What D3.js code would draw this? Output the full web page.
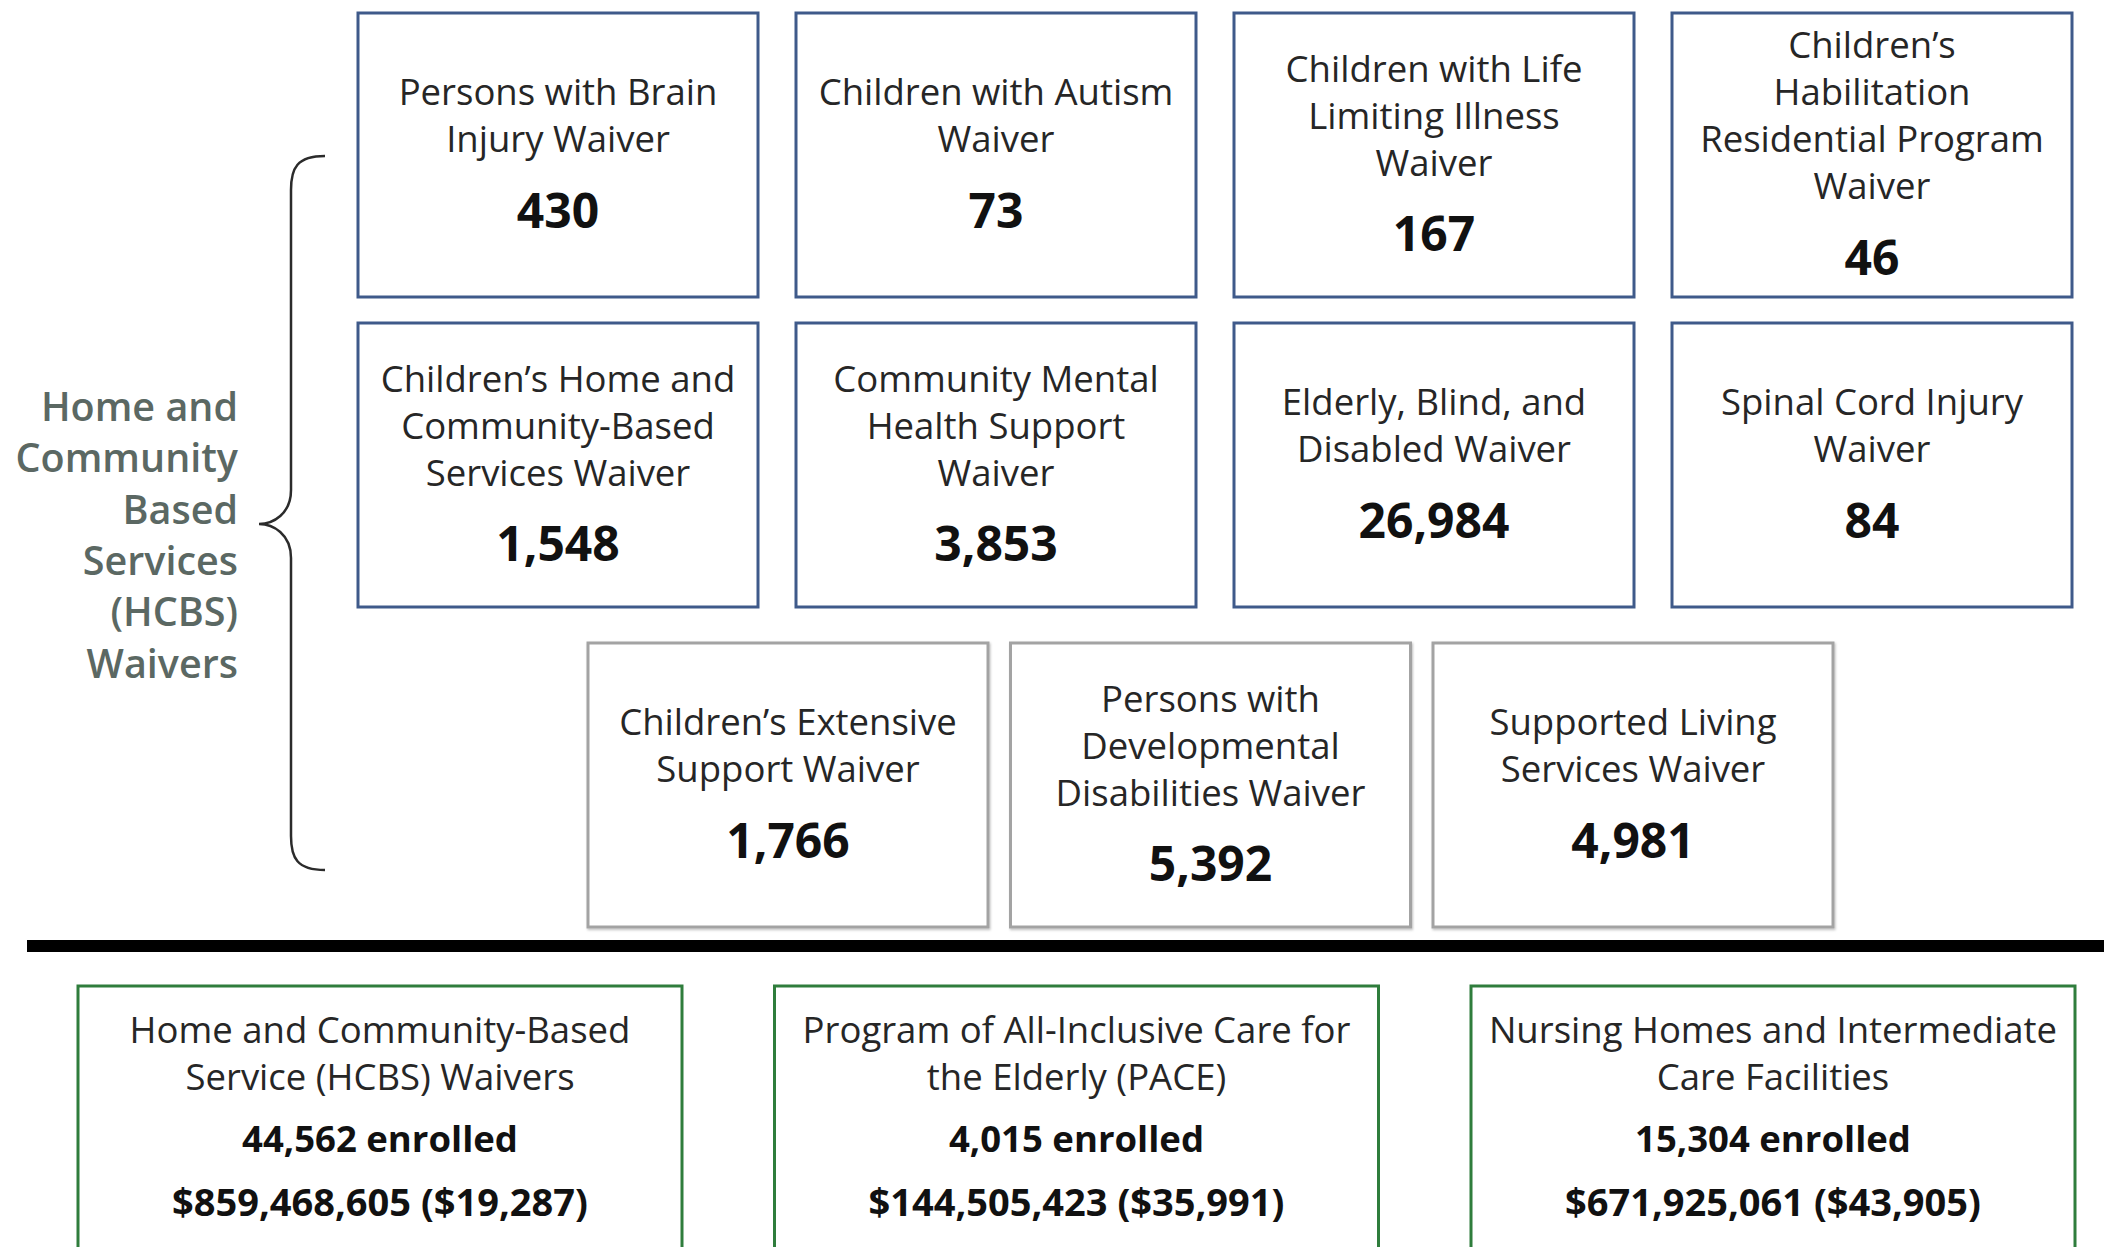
<!DOCTYPE html>
<html>
<head>
<meta charset="utf-8">
<script src="https://cdnjs.cloudflare.com/ajax/libs/d3/7.8.5/d3.min.js"></script>
<style>
  html, body { margin: 0; padding: 0; background: #fff; }
  svg { display: block; }
</style>
</head>
<body>
<svg id="canvas"></svg>
<script>
// waiver boxes, one row per array
const row1Labels = ["Persons with Brain|Injury Waiver", "Children with Autism|Waiver", "Children with Life|Limiting Illness|Waiver", "Children’s|Habilitation|Residential Program|Waiver"]
const row1Values = [430, 73, 167, 46]

const row2Labels = ["Children’s Home and|Community-Based|Services Waiver", "Community Mental|Health Support|Waiver", "Elderly, Blind, and|Disabled Waiver", "Spinal Cord Injury|Waiver"]
const row2Values = [1548, 3853, 26984, 84]

const row3Labels = ["Children’s Extensive|Support Waiver", "Persons with|Developmental|Disabilities Waiver", "Supported Living|Services Waiver"]
const row3Values = [1766, 5392, 4981]

// summary boxes under the line
const summaryTitles = ["Home and Community-Based|Service (HCBS) Waivers", "Program of All-Inclusive Care for|the Elderly (PACE)", "Nursing Homes and Intermediate|Care Facilities"]
const summaryEnrolled = [44562, 4015, 15304]
const summarySpend = [859468605, 144505423, 671925061]
const summaryPerPerson = [19287, 35991, 43905]

const groupLabel = ["Home and", "Community", "Based", "Services", "(HCBS)", "Waivers"]

width = 2104
height = 1247

let svg = d3.select('#canvas')
  .attr('width', width)
  .attr('height', height)

let comma = d3.format(',')
let font = '"Open Sans", sans-serif'

let boxH = 284

let rowTop = d3.scaleOrdinal().domain([0, 1, 2]).range([13, 323, 643])

let xWide = d3.scaleBand().domain(d3.range(4)).range([358, 2072]).paddingInner(1 - 400 / 438)
let xRow3 = d3.scaleBand().domain(d3.range(3)).range([588, 1833]).paddingInner(1 - 400 / 422.5)
let xSummary = d3.scaleBand().domain(d3.range(3)).range([78, 2075]).paddingInner(1 - 604 / 696.5)

let waiverRows = [
  {labels: row1Labels, values: row1Values, x: xWide, stroke: '#3f5a8a'},
  {labels: row2Labels, values: row2Values, x: xWide, stroke: '#3f5a8a'},
  {labels: row3Labels, values: row3Values, x: xRow3, stroke: '#a3a3a3'}
]

let defs = svg.append('defs')
let shadow = defs.append('filter').attr('id', 'soft').attr('x', '-5%').attr('y', '-5%').attr('width', '110%').attr('height', '110%')
shadow.append('feDropShadow').attr('dx', 1).attr('dy', 1.5).attr('stdDeviation', 1.2).attr('flood-color', '#000').attr('flood-opacity', 0.25)

let lineGap = 47
let numGap = 71

waiverRows.forEach((row, r) => {
  let cells = row.labels.map((label, i) => ({label: label.split('|'), value: row.values[i], i: i}))

  let block = svg.selectAll('g.row' + r)
    .data(cells)
    .enter()
    .append('g')
    .attr('class', 'row' + r)
    .attr('transform', (d) => "translate(" + row.x(d.i) + ", " + rowTop(r) + ")")

  block.append('rect')
    .attr('width', row.x.bandwidth())
    .attr('height', boxH)
    .attr('fill', '#fff')
    .attr('stroke', row.stroke)
    .attr('stroke-width', 3)
    .attr('filter', r === 2 ? 'url(#soft)' : null)

  block.each(function (d) {
    let g = d3.select(this)
    let n = d.label.length
    let blockH = (n - 1) * lineGap + numGap
    let top = boxH / 2 - 5 - blockH / 2
    let cx = row.x.bandwidth() / 2

    g.selectAll('text.lbl')
      .data(d.label)
      .enter()
      .append('text')
      .attr('class', 'lbl')
      .attr('x', cx)
      .attr('y', (t, k) => top + k * lineGap)
      .attr('text-anchor', 'middle')
      .attr('dominant-baseline', 'central')
      .attr('font-family', font)
      .attr('font-size', 36.5)
      .attr('fill', '#262626')
      .text((t) => t)

    g.append('text')
      .attr('x', cx)
      .attr('y', top + (n - 1) * lineGap + numGap)
      .attr('text-anchor', 'middle')
      .attr('dominant-baseline', 'central')
      .attr('font-family', font)
      .attr('font-weight', 'bold')
      .attr('font-size', 48)
      .attr('fill', '#111')
      .text(comma(d.value))
  })
})

// divider
svg.append('rect')
  .attr('x', 27)
  .attr('y', 940)
  .attr('width', width - 27)
  .attr('height', 12)
  .attr('fill', '#000')

// summary boxes
let summary = summaryTitles.map((t, i) => ({title: t.split('|'), enrolled: summaryEnrolled[i], spend: summarySpend[i], per: summaryPerPerson[i], i: i}))

let sBlock = svg.selectAll('g.summary')
  .data(summary)
  .enter()
  .append('g')
  .attr('class', 'summary')
  .attr('transform', (d) => "translate(" + xSummary(d.i) + ", 986)")

sBlock.append('rect')
  .attr('width', xSummary.bandwidth())
  .attr('height', 320)
  .attr('fill', '#fff')
  .attr('stroke', '#2f7d3c')
  .attr('stroke-width', 3)

sBlock.each(function (d) {
  let g = d3.select(this)
  let cx = xSummary.bandwidth() / 2
  g.selectAll('text.title')
    .data(d.title)
    .enter()
    .append('text')
    .attr('class', 'title')
    .attr('x', cx)
    .attr('y', (t, k) => 43 + k * 47)
    .attr('text-anchor', 'middle')
    .attr('dominant-baseline', 'central')
    .attr('font-family', font)
    .attr('font-size', 36.5)
    .attr('fill', '#262626')
    .text((t) => t)

  g.append('text')
    .attr('x', cx)
    .attr('y', 152)
    .attr('text-anchor', 'middle')
    .attr('dominant-baseline', 'central')
    .attr('font-family', font)
    .attr('font-weight', 'bold')
    .attr('font-size', 36.5)
    .attr('fill', '#111')
    .text(comma(d.enrolled) + " enrolled")

  g.append('text')
    .attr('x', cx)
    .attr('y', 215)
    .attr('text-anchor', 'middle')
    .attr('dominant-baseline', 'central')
    .attr('font-family', font)
    .attr('font-weight', 'bold')
    .attr('font-size', 38)
    .attr('fill', '#111')
    .text("$" + comma(d.spend) + " ($" + comma(d.per) + ")")
})

// brace and group label
let braceTop = 156, braceMid = 524, braceBot = 870
let bx = 291, tipX = 325, midX = 259
let brace = d3.path()
brace.moveTo(tipX, braceTop)
brace.bezierCurveTo(bx + 6, braceTop, bx, braceTop + 12, bx, braceTop + 34)
brace.lineTo(bx, braceMid - 34)
brace.bezierCurveTo(bx, braceMid - 10, midX + 14, braceMid, midX, braceMid)
brace.bezierCurveTo(midX + 14, braceMid, bx, braceMid + 10, bx, braceMid + 34)
brace.lineTo(bx, braceBot - 34)
brace.bezierCurveTo(bx, braceBot - 12, bx + 6, braceBot, tipX, braceBot)

svg.append('path')
  .attr('d', brace.toString())
  .attr('fill', 'none')
  .attr('stroke', '#2b2b2b')
  .attr('stroke-width', 2.5)

svg.selectAll('text.group')
  .data(groupLabel)
  .enter()
  .append('text')
  .attr('class', 'group')
  .attr('x', 238)
  .attr('y', (t, k) => 406 + k * 51.3)
  .attr('text-anchor', 'end')
  .attr('dominant-baseline', 'central')
  .attr('font-family', font)
  .attr('font-weight', 600)
  .attr('font-size', 39.5)
  .attr('fill', '#5b6863')
  .text((t) => t)
</script>
</body>
</html>
